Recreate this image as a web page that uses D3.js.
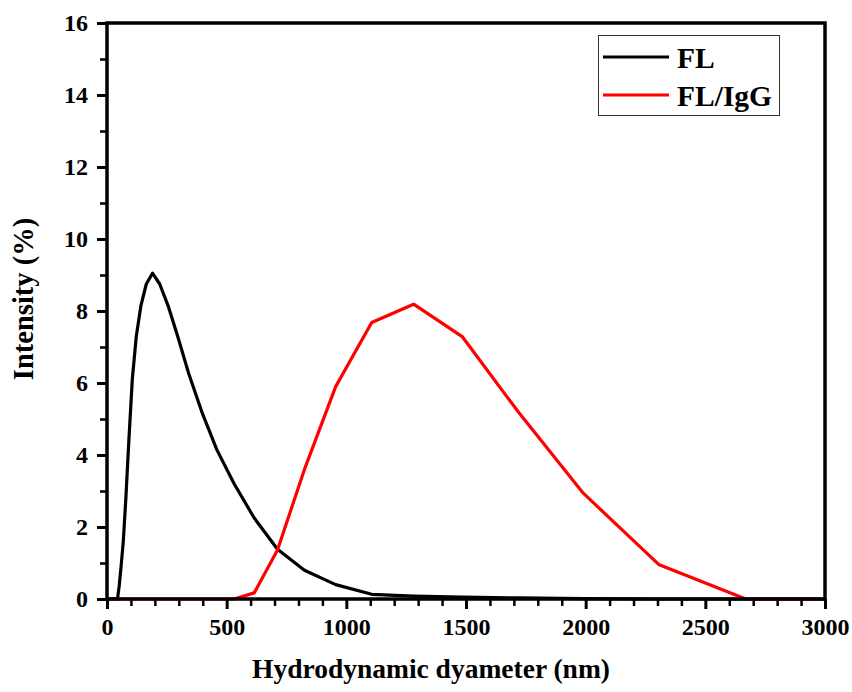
<!DOCTYPE html>
<html>
<head>
<meta charset="utf-8">
<script src="https://cdn.jsdelivr.net/npm/d3@7/dist/d3.min.js"></script>
<style>
  html, body { margin: 0; padding: 0; background: #fff; }
  svg { display: block; }
  text { font-family: "Liberation Serif", "Times New Roman", serif; font-weight: bold; fill: #000; }
</style>
</head>
<body>
<svg id="chart" width="852" height="692"></svg>
<script>
// ---- data ----
const seriesNames = ["FL", "FL/IgG"];
const seriesColors = ["#000000", "#ff0000"];

const flSize = [0, 43.82, 50.75, 58.77, 68.06, 78.82, 91.28, 105.7, 122.4, 141.8, 164.2, 190.1, 220.2, 255.0, 295.3, 342.0, 396.1, 458.7, 531.2, 615.1, 712.4, 825.0, 955.4, 1106, 1281, 1484, 1718, 1990, 2305, 2669, 3091];
const flIntensity = [0, 0, 0.35, 0.9, 1.6, 2.8, 4.4, 6.1, 7.3, 8.15, 8.75, 9.05, 8.75, 8.15, 7.3, 6.25, 5.2, 4.15, 3.2, 2.25, 1.38, 0.8, 0.4, 0.13, 0.08, 0.05, 0.03, 0.01, 0, 0, 0];

const iggSize = [0, 531.2, 615.1, 712.4, 825.0, 955.4, 1106, 1281, 1484, 1718, 1990, 2305, 2669, 3091];
const iggIntensity = [0, 0, 0.17, 1.36, 3.6, 5.9, 7.68, 8.19, 7.29, 5.2, 2.94, 0.96, 0, 0];

const xTicks = [0, 500, 1000, 1500, 2000, 2500, 3000];
const yTicks = [0, 2, 4, 6, 8, 10, 12, 14, 16];

// ---- layout ----
const svg = d3.select("#chart");
const margin = { left: 107, top: 23, right: 27, bottom: 93 };
const W = 852 - margin.left - margin.right;   // 718
const H = 692 - margin.top - margin.bottom;   // 576

const x = d3.scaleLinear().domain([0, 3000]).range([0, W]);
const y = d3.scaleLinear().domain([0, 16]).range([H, 0]);

const g = svg.append("g").attr("transform", `translate(${margin.left},${margin.top})`);

g.append("defs").append("clipPath").attr("id", "clip")
  .append("rect").attr("x", 0).attr("y", -5).attr("width", W).attr("height", H + 10);

// minor ticks
const xMinor = d3.range(0, 3001, 100).filter(v => v % 500 !== 0);
const yMinor = d3.range(0, 17, 1).filter(v => v % 2 !== 0);

const xAxisMinor = d3.axisBottom(x).tickValues(xMinor).tickSize(7).tickFormat("");
const yAxisMinor = d3.axisLeft(y).tickValues(yMinor).tickSize(7).tickFormat("");
const xAxis = d3.axisBottom(x).tickValues(xTicks).tickSize(10).tickPadding(9).tickFormat(d3.format("d"));
const yAxis = d3.axisLeft(y).tickValues(yTicks).tickSize(10).tickPadding(9).tickFormat(d3.format("d"));

function styleAxis(sel, w) {
  sel.select(".domain").remove();
  sel.selectAll("line").attr("stroke", "#000").attr("stroke-width", w);
}

g.append("g").attr("transform", `translate(0,${H})`).call(xAxisMinor).call(s => styleAxis(s, 2.5));
g.append("g").call(yAxisMinor).call(s => styleAxis(s, 2.5));
const gx = g.append("g").attr("transform", `translate(0,${H})`).call(xAxis).call(s => styleAxis(s, 3));
const gy = g.append("g").call(yAxis).call(s => styleAxis(s, 3));
gx.selectAll("text").style("font-size", "24px").attr("font-family", null);
gy.selectAll("text").style("font-size", "24px").attr("font-family", null);

// series
const line = d3.line().x(d => x(d[0])).y(d => y(d[1]));
const series = [
  d3.zip(flSize, flIntensity),
  d3.zip(iggSize, iggIntensity)
];
g.append("g").attr("clip-path", "url(#clip)")
  .selectAll("path").data(series).join("path")
  .attr("d", line)
  .attr("fill", "none")
  .attr("stroke", (d, i) => seriesColors[i])
  .attr("stroke-width", 3.2)
  .attr("stroke-linejoin", "round");

// frame
g.append("rect").attr("x", 0).attr("y", 0).attr("width", W).attr("height", H)
  .attr("fill", "none").attr("stroke", "#000").attr("stroke-width", 3.5);

// axis titles
svg.append("text")
  .attr("x", 431).attr("y", 678)
  .attr("text-anchor", "middle")
  .style("font-size", "27.5px")
  .text("Hydrodynamic dyameter (nm)");

svg.append("text")
  .attr("transform", "translate(33,299) rotate(-90)")
  .attr("text-anchor", "middle")
  .style("font-size", "28.5px")
  .text("Intensity (%)");

// legend
const lg = svg.append("g");
lg.append("rect").attr("x", 598.5).attr("y", 35.5).attr("width", 181).attr("height", 80)
  .attr("fill", "#fff").attr("stroke", "#333").attr("stroke-width", 1);
seriesNames.forEach((name, i) => {
  const yy = 57 + i * 38;
  lg.append("line").attr("x1", 603).attr("x2", 669).attr("y1", yy).attr("y2", yy)
    .attr("stroke", seriesColors[i]).attr("stroke-width", 3.2);
  lg.append("text").attr("x", 677).attr("y", yy + 11)
    .style("font-size", "29.5px").text(name);
});
</script>
</body>
</html>
